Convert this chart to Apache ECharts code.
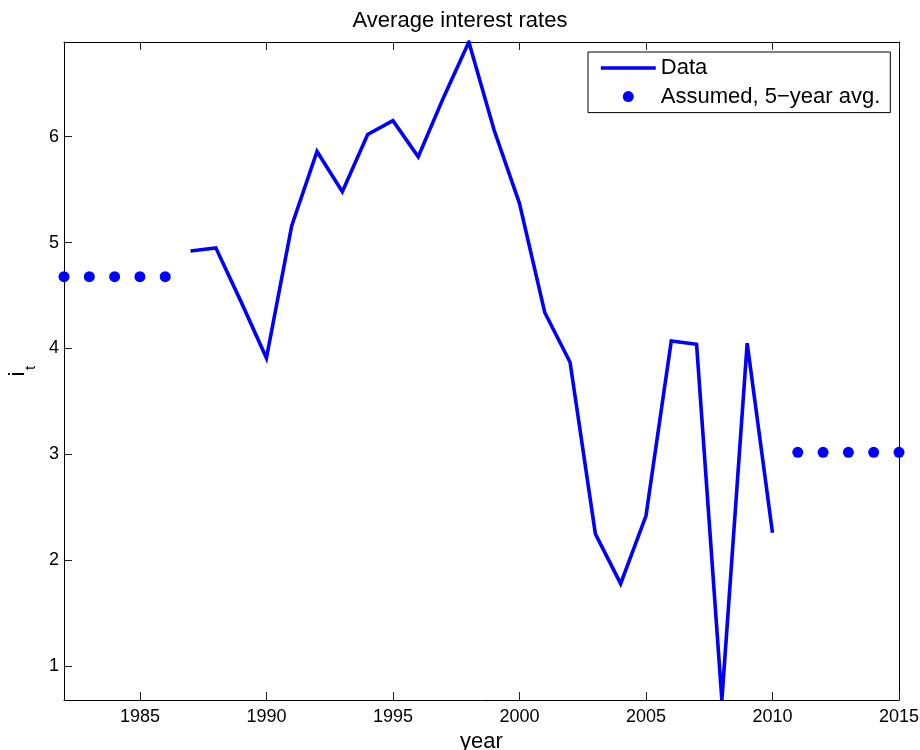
<!DOCTYPE html>
<html>
<head>
<meta charset="utf-8">
<title>Average interest rates</title>
<script src="https://cdn.jsdelivr.net/npm/echarts@6/dist/echarts.min.js"></script>
<style>
  html, body { margin: 0; padding: 0; background: #fff; }
  #chart { width: 920px; height: 750px; }
</style>
</head>
<body>
<div id="chart"></div>
<script>
// Observed average interest rates, 1987-2010
const dataYears = [1987, 1988, 1989, 1990, 1991, 1992, 1993, 1994, 1995, 1996, 1997, 1998,
                   1999, 2000, 2001, 2002, 2003, 2004, 2005, 2006, 2007, 2008, 2009, 2010];
const dataRates = [4.92, 4.95, 4.44, 3.91, 5.16, 5.86, 5.48, 6.02, 6.15, 5.81, 6.37, 6.893,
                   6.06, 5.37, 4.34, 3.87, 2.25, 1.78, 2.42, 4.07, 4.04, 0.682, 4.05, 2.26];

// Years outside the sample, filled with a 5-year average
const assumedYearsBefore = [1982, 1983, 1984, 1985, 1986];
const assumedRatesBefore = [4.678, 4.678, 4.678, 4.678, 4.678];
const assumedYearsAfter = [2011, 2012, 2013, 2014, 2015];
const assumedRatesAfter = [3.02, 3.02, 3.02, 3.02, 3.02];

// Tick positions
const xTicks = [1985, 1990, 1995, 2000, 2005, 2010, 2015];
const yTicks = [1, 2, 3, 4, 5, 6];

const FONT = 'Liberation Sans, Arial, Helvetica, sans-serif';
const BLUE = '#0000ff';
const DATA_NAME = 'Data';
const ASSUMED_NAME = 'Assumed, 5\u2212year avg.';

const zip = (xs, ys) => xs.map((x, i) => [x, ys[i]]);
const dataSeries = zip(dataYears, dataRates);
const assumedSeries = zip(assumedYearsBefore, assumedRatesBefore)
  .concat(zip(assumedYearsAfter, assumedRatesAfter));

const xMin = 1982, xMax = 2015;
const yMin = v => v.min;
const yMax = v => v.max;

const frameLine = { show: true, onZero: false, lineStyle: { color: '#000', width: 1 } };
const innerTick = { show: true, inside: true, length: 8, lineStyle: { color: '#222', width: 1 } };
const plain = v => String(v);

const chart = echarts.init(document.getElementById('chart'), null, { renderer: 'canvas' });

chart.setOption({
  animation: false,
  backgroundColor: '#fff',
  textStyle: { fontFamily: FONT, color: '#000' },
  title: {
    text: 'Average interest rates',
    left: 'center',
    top: 5,
    textStyle: { fontFamily: FONT, fontSize: 22, fontWeight: 'normal', color: '#000' }
  },
  grid: { left: 64, right: 21, top: 42, bottom: 50, containLabel: false, outerBoundsMode: 'none' },
  legend: {
    show: true,
    orient: 'vertical',
    left: 588,
    top: 52,
    padding: [4, 10, 4, 11],
    itemWidth: 55,
    itemHeight: 11,
    itemGap: 4.6,
    backgroundColor: '#fff',
    borderColor: '#000',
    borderWidth: 1,
    borderRadius: 0,
    textStyle: { fontFamily: FONT, fontSize: 22, color: '#000', lineHeight: 24 },
    data: [
      { name: DATA_NAME, itemStyle: { opacity: 0 }, lineStyle: { width: 3.6, opacity: 1 } },
      ASSUMED_NAME
    ]
  },
  xAxis: [
    {
      type: 'value',
      position: 'bottom',
      min: xMin,
      max: xMax,
      name: 'year',
      nameLocation: 'middle',
      nameGap: 28,
      nameTextStyle: { fontFamily: FONT, fontSize: 22, color: '#000' },
      axisLine: frameLine,
      axisTick: Object.assign({ customValues: xTicks }, innerTick),
      axisLabel: {
        customValues: xTicks,
        formatter: plain,
        fontFamily: FONT, fontSize: 18, color: '#000', margin: 8,
        showMinLabel: true, showMaxLabel: true
      },
      splitLine: { show: false }
    },
    {
      type: 'value',
      position: 'top',
      min: xMin,
      max: xMax,
      axisLine: frameLine,
      axisTick: Object.assign({ customValues: xTicks }, innerTick),
      axisLabel: { show: false },
      splitLine: { show: false }
    }
  ],
  yAxis: [
    {
      type: 'value',
      position: 'left',
      min: yMin,
      max: yMax,
      axisLine: frameLine,
      axisTick: Object.assign({ customValues: yTicks }, innerTick),
      axisLabel: {
        customValues: yTicks,
        formatter: plain,
        fontFamily: FONT, fontSize: 18, color: '#000', margin: 5
      },
      splitLine: { show: false }
    },
    {
      type: 'value',
      position: 'right',
      min: yMin,
      max: yMax,
      axisLine: frameLine,
      axisTick: Object.assign({ customValues: yTicks }, innerTick),
      axisLabel: { show: false },
      splitLine: { show: false }
    }
  ],
  // y-axis label: i with subscript t
  graphic: [
    {
      type: 'text', x: 17.5, y: 374, rotation: Math.PI / 2,
      style: { text: 'i', font: '22px ' + FONT, fill: '#000', align: 'center', verticalAlign: 'middle' }
    },
    {
      type: 'text', x: 31, y: 368, rotation: Math.PI / 2,
      style: { text: 't', font: '15px ' + FONT, fill: '#000', align: 'center', verticalAlign: 'middle' }
    }
  ],
  series: [
    {
      name: DATA_NAME,
      type: 'line',
      xAxisIndex: 0,
      yAxisIndex: 0,
      data: dataSeries,
      showSymbol: false,
      symbol: 'none',
      color: BLUE,
      lineStyle: { color: BLUE, width: 3.6, join: 'miter', miterLimit: 4 },
      clip: true,
      z: 3
    },
    {
      name: ASSUMED_NAME,
      type: 'scatter',
      xAxisIndex: 0,
      yAxisIndex: 0,
      data: assumedSeries,
      symbol: 'circle',
      symbolSize: 11,
      color: BLUE,
      itemStyle: { color: BLUE, opacity: 1 },
      clip: false,
      z: 4
    }
  ]
});
</script>
</body>
</html>
